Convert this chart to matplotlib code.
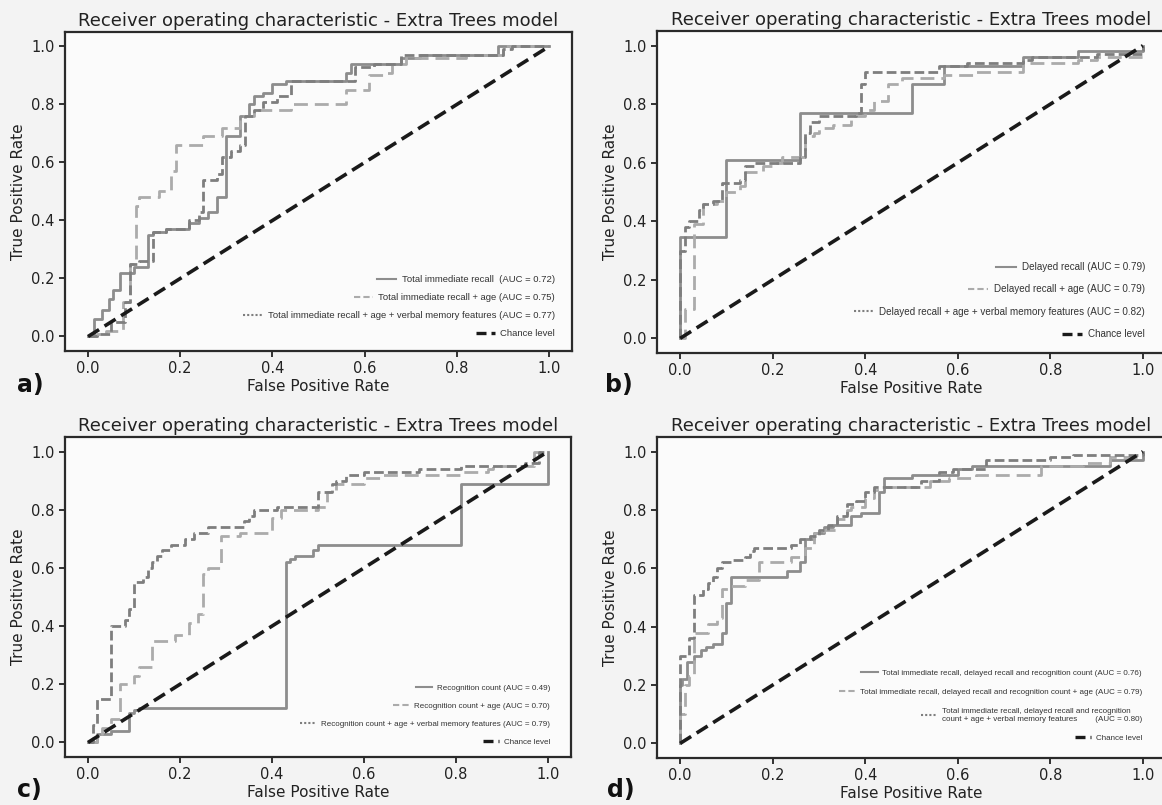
"""
ROC curves of the Extra Trees model for four verbal memory feature sets.
Four panels (a-d), each with three feature-set curves plus the chance line.
"""

import matplotlib
matplotlib.use("Agg")
import matplotlib.pyplot as plt
from matplotlib.lines import Line2D

# --- DATA (step corners: fpr, tpr after the step) ---

# a) Total immediate recall
a_fpr_base = [0, 0.013, 0.03, 0.045, 0.055, 0.07, 0.10, 0.13, 0.14, 0.17, 0.22, 0.24, 0.26, 0.28,
              0.30, 0.33, 0.35, 0.36, 0.38, 0.40, 0.43, 0.56, 0.57, 0.68, 0.72, 0.89, 1.0]
a_tpr_base = [0, 0.06, 0.09, 0.13, 0.16, 0.22, 0.24, 0.35, 0.36, 0.37, 0.39, 0.41, 0.43, 0.48,
              0.69, 0.76, 0.80, 0.83, 0.84, 0.87, 0.88, 0.91, 0.94, 0.96, 0.97, 1.0, 1.0]
a_fpr_age = [0, 0.02, 0.04, 0.075, 0.09, 0.105, 0.11, 0.155, 0.18, 0.19, 0.25, 0.29, 0.33, 0.36,
             0.44, 0.56, 0.61, 0.64, 0.66, 0.69, 0.82, 0.90, 1.0]
a_tpr_age = [0, 0.01, 0.02, 0.12, 0.25, 0.45, 0.48, 0.50, 0.57, 0.66, 0.69, 0.72, 0.76, 0.78,
             0.80, 0.85, 0.90, 0.91, 0.94, 0.96, 0.97, 1.0, 1.0]
a_fpr_all = [0, 0.02, 0.05, 0.08, 0.09, 0.11, 0.14, 0.17, 0.22, 0.24, 0.25, 0.28, 0.29, 0.31,
             0.33, 0.34, 0.36, 0.38, 0.41, 0.44, 0.58, 0.62, 0.68, 0.90, 0.92, 1.0]
a_tpr_all = [0, 0.01, 0.05, 0.12, 0.25, 0.26, 0.36, 0.37, 0.40, 0.43, 0.54, 0.56, 0.62, 0.64,
             0.66, 0.76, 0.78, 0.81, 0.83, 0.88, 0.93, 0.94, 0.97, 0.99, 1.0, 1.0]
a_labels = ["Total immediate recall  (AUC = 0.72)",
            "Total immediate recall + age (AUC = 0.75)",
            "Total immediate recall + age + verbal memory features (AUC = 0.77)"]

# b) Delayed recall
b_fpr_base = [0, 0, 0.10, 0.26, 0.50, 0.57, 0.74, 0.86, 1.0]
b_tpr_base = [0, 0.345, 0.61, 0.77, 0.87, 0.93, 0.96, 0.98, 1.0]
b_fpr_age = [0, 0.01, 0.03, 0.05, 0.08, 0.10, 0.13, 0.14, 0.18, 0.20, 0.22, 0.26, 0.27, 0.29,
             0.30, 0.33, 0.37, 0.40, 0.42, 0.45, 0.48, 0.57, 0.64, 0.74, 0.86, 0.90, 1.0]
b_tpr_age = [0, 0.10, 0.39, 0.46, 0.47, 0.50, 0.52, 0.57, 0.59, 0.60, 0.62, 0.62, 0.69, 0.70,
             0.72, 0.73, 0.76, 0.78, 0.81, 0.87, 0.89, 0.90, 0.91, 0.94, 0.95, 0.96, 1.0]
b_fpr_all = [0, 0, 0.01, 0.02, 0.04, 0.05, 0.07, 0.09, 0.13, 0.14, 0.16, 0.20, 0.26, 0.27, 0.28,
             0.30, 0.38, 0.39, 0.40, 0.56, 0.60, 0.62, 0.74, 0.76, 0.90, 1.0]
b_tpr_all = [0, 0.30, 0.38, 0.40, 0.44, 0.46, 0.47, 0.53, 0.54, 0.59, 0.60, 0.60, 0.62, 0.70, 0.74,
             0.76, 0.77, 0.87, 0.91, 0.93, 0.93, 0.94, 0.95, 0.96, 0.97, 1.0]
b_labels = ["Delayed recall (AUC = 0.79)",
            "Delayed recall + age (AUC = 0.79)",
            "Delayed recall + age + verbal memory features (AUC = 0.82)"]

# c) Recognition count
c_fpr_base = [0, 0.02, 0.05, 0.09, 0.10, 0.11, 0.43, 0.44, 0.45, 0.49, 0.50, 0.81, 1.0, 1.0]
c_tpr_base = [0, 0.03, 0.04, 0.10, 0.11, 0.12, 0.62, 0.63, 0.64, 0.66, 0.68, 0.89, 0.89, 1.0]
c_fpr_age = [0, 0.02, 0.03, 0.05, 0.07, 0.10, 0.11, 0.14, 0.19, 0.22, 0.24, 0.25, 0.26, 0.29,
             0.33, 0.40, 0.42, 0.50, 0.52, 0.54, 0.60, 0.64, 0.81, 0.87, 0.88, 0.97, 1.0]
c_tpr_age = [0, 0.03, 0.05, 0.08, 0.20, 0.23, 0.26, 0.35, 0.37, 0.41, 0.44, 0.58, 0.60, 0.71,
             0.72, 0.77, 0.80, 0.81, 0.86, 0.89, 0.91, 0.92, 0.93, 0.94, 0.95, 1.0, 1.0]
c_fpr_all = [0, 0.01, 0.02, 0.05, 0.08, 0.09, 0.10, 0.12, 0.13, 0.14, 0.15, 0.16, 0.18, 0.21,
             0.23, 0.26, 0.34, 0.35, 0.36, 0.41, 0.50, 0.53, 0.54, 0.56, 0.60, 0.72, 0.81, 0.95,
             0.98, 1.0]
c_tpr_all = [0, 0.06, 0.15, 0.40, 0.42, 0.46, 0.55, 0.57, 0.60, 0.62, 0.64, 0.66, 0.68, 0.70,
             0.72, 0.74, 0.76, 0.78, 0.80, 0.81, 0.86, 0.89, 0.90, 0.92, 0.93, 0.94, 0.95, 0.96,
             1.0, 1.0]
c_labels = ["Recognition count (AUC = 0.49)",
            "Recognition count + age (AUC = 0.70)",
            "Recognition count + age + verbal memory features (AUC = 0.79)"]

# d) Total immediate recall, delayed recall and recognition count
d_fpr_base = [0, 0, 0.005, 0.015, 0.03, 0.045, 0.055, 0.07, 0.09, 0.10, 0.11, 0.23, 0.26, 0.27,
              0.29, 0.31, 0.33, 0.37, 0.39, 0.43, 0.44, 0.50, 0.60, 0.63, 0.93, 1.0, 1.0]
d_tpr_base = [0, 0.20, 0.22, 0.28, 0.30, 0.32, 0.33, 0.34, 0.38, 0.48, 0.57, 0.59, 0.62, 0.70,
              0.72, 0.74, 0.75, 0.78, 0.79, 0.86, 0.91, 0.92, 0.94, 0.95, 0.97, 0.97, 1.0]
d_fpr_age = [0, 0, 0.01, 0.02, 0.03, 0.06, 0.08, 0.09, 0.11, 0.14, 0.17, 0.24, 0.27, 0.29,
             0.31, 0.34, 0.36, 0.37, 0.40, 0.42, 0.44, 0.54, 0.58, 0.64, 0.78, 0.87, 0.93, 1.0]
d_tpr_age = [0, 0.10, 0.20, 0.23, 0.38, 0.41, 0.43, 0.53, 0.54, 0.56, 0.62, 0.64, 0.67, 0.72,
             0.73, 0.77, 0.80, 0.81, 0.84, 0.87, 0.88, 0.90, 0.91, 0.92, 0.95, 0.96, 0.98, 1.0]
d_fpr_all = [0, 0, 0.02, 0.03, 0.05, 0.06, 0.07, 0.08, 0.09, 0.11, 0.14, 0.15, 0.16, 0.24, 0.26,
             0.28, 0.30, 0.32, 0.34, 0.36, 0.38, 0.40, 0.42, 0.52, 0.56, 0.59, 0.66, 0.80, 0.85, 1.0]
d_tpr_all = [0, 0.30, 0.36, 0.51, 0.53, 0.55, 0.57, 0.60, 0.62, 0.63, 0.64, 0.66, 0.67, 0.68, 0.70,
             0.71, 0.73, 0.75, 0.78, 0.82, 0.83, 0.86, 0.88, 0.90, 0.93, 0.94, 0.97, 0.98, 0.99, 1.0]
d_labels = ["Total immediate recall, delayed recall and recognition count (AUC = 0.76)",
            "Total immediate recall, delayed recall and recognition count + age (AUC = 0.79)",
            "Total immediate recall, delayed recall and recognition\n"
            "count + age + verbal memory features        (AUC = 0.80)"]

CHANCE = [0, 1]
TITLE = "Receiver operating characteristic - Extra Trees model"
TICKS = [0.0, 0.2, 0.4, 0.6, 0.8, 1.0]

# --- STYLE ---
COL_BASE = "#8d8d8d"
COL_AGE = "#ababab"
COL_ALL = "#7e7e7e"
LEG_FONT = ["Liberation Sans Narrow", "Liberation Sans"]

W, H = 1162, 805

# per panel: tag, curves, labels, axes rect px (l, t, r, b), legend font size,
# legend label spacing, legend anchor px (text right, bottom), tag position px
PANELS = [
    ("a)", (a_fpr_base, a_tpr_base), (a_fpr_age, a_tpr_age), (a_fpr_all, a_tpr_all), a_labels,
     (65, 32, 572, 351), 6.8, 0.95, (555, 338), (17, 392)),
    ("b)", (b_fpr_base, b_tpr_base), (b_fpr_age, b_tpr_age), (b_fpr_all, b_tpr_all), b_labels,
     (657, 31, 1166, 353), 7.1, 1.25, (1145, 339), (605, 392)),
    ("c)", (c_fpr_base, c_tpr_base), (c_fpr_age, c_tpr_age), (c_fpr_all, c_tpr_all), c_labels,
     (65, 437, 571, 757), 5.8, 1.3, (550, 746), (17, 797)),
    ("d)", (d_fpr_base, d_tpr_base), (d_fpr_age, d_tpr_age), (d_fpr_all, d_tpr_all), d_labels,
     (657, 437, 1166, 758), 5.8, 1.45, (1142, 742), (607, 797)),
]

fig = plt.figure(figsize=(W / 100, H / 100), dpi=100)
fig.patch.set_facecolor("#f3f3f3")

for tag, base, age, allf, labels, (l, t, r, b), leg_fs, leg_sp, (lx, ly), (tx, ty) in PANELS:
    ax = fig.add_axes([l / W, 1 - b / H, (r - l) / W, (b - t) / H])
    ax.set_facecolor("#fbfbfb")

    ax.plot(base[0], base[1], drawstyle="steps-post", color=COL_BASE, lw=2)
    ax.plot(age[0], age[1], drawstyle="steps-post", color=COL_AGE, lw=2, dashes=(5, 2.5))
    ax.plot(allf[0], allf[1], drawstyle="steps-post", color=COL_ALL, lw=2, dashes=(3.5, 1.5))
    ax.plot(CHANCE, CHANCE, color="#1a1a1a", lw=2.6, dashes=(3.6, 1.8))

    ax.set_xlim(-0.05, 1.05)
    ax.set_ylim(-0.05, 1.05)
    ax.set_xticks(TICKS)
    ax.set_yticks(TICKS)
    ax.tick_params(labelsize=10.5, colors="#222222", width=1.3, length=4)
    for sp in ax.spines.values():
        sp.set_linewidth(1.6)
        sp.set_color("#2a2a2a")

    ax.set_title(TITLE, fontsize=13, color="#222222", pad=4)
    ax.set_xlabel("False Positive Rate", fontsize=11, color="#222222", labelpad=2)
    ax.set_ylabel("True Positive Rate", fontsize=11, color="#222222", labelpad=4)

    # legend proxies: the third entry is shown dotted in the original legend
    handles = [
        Line2D([], [], color=COL_BASE, lw=1.5),
        Line2D([], [], color=COL_AGE, lw=1.5, dashes=(3, 1.5)),
        Line2D([], [], color=COL_ALL, lw=1.5, dashes=(1, 1)),
        Line2D([], [], color="#1a1a1a", lw=2.4, dashes=(3, 1.5)),
    ]
    anchor = ((lx - l) / (r - l), (b - ly) / (b - t))
    leg = ax.legend(handles, labels + ["Chance level"], loc="lower right",
                    bbox_to_anchor=anchor, frameon=False, borderpad=0, borderaxespad=0,
                    handlelength=2.0, handletextpad=0.6, labelspacing=leg_sp,
                    prop={"family": LEG_FONT, "size": leg_fs})
    for col in leg._legend_handle_box.get_children():
        col.align = "right"
    for txt in leg.get_texts():
        txt.set_color("#333333")

    fig.text(tx / W, 1 - ty / H, tag, fontsize=17, fontweight="bold", color="#111111")

fig.savefig("out.png", dpi=100, facecolor=fig.get_facecolor())
